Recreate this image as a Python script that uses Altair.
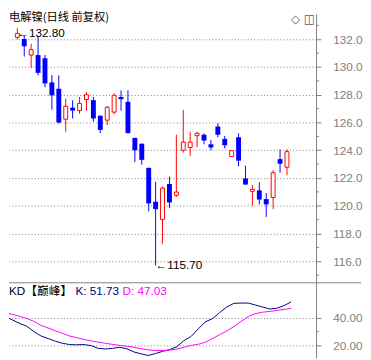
import altair as alt
import pandas as pd

# ---------------- data ----------------
title_text = "电解镍(日线 前复权)"
kd_title = "KD【巅峰】"
icons = ["◇", "◫"]

opens = [132.14, 132.02, 130.86, 130.86, 130.63, 128.89, 128.43, 126.24, 127.07, 126.86,
         127.66, 127.61, 126.49, 126.17, 126.75, 127.84, 127.49, 124.89, 124.47, 122.73,
         120.29, 119.02, 121.57, 120.76, 124.00, 124.20, 125.05, 125.12, 124.43, 125.71,
         124.82, 123.55, 124.94, 121.97, 121.04, 121.11, 120.48, 120.59, 123.36, 122.78]
highs = [132.80, 132.26, 131.67, 132.19, 130.86, 129.42, 129.40, 127.73, 127.60, 127.84,
         128.20, 127.84, 126.50, 127.19, 128.10, 128.31, 128.31, 124.90, 124.50, 122.75,
         121.74, 121.40, 122.10, 125.12, 126.91, 125.33, 125.33, 125.22, 124.75, 125.94,
         125.03, 123.97, 125.22, 122.89, 121.50, 121.69, 120.92, 122.57, 124.06, 124.06]
lows = [131.98, 130.75, 129.93, 129.40, 128.54, 126.93, 125.93, 125.33, 126.29, 126.63,
        126.86, 126.06, 125.24, 125.82, 126.60, 126.86, 125.20, 123.15, 122.96, 119.60,
        115.70, 117.27, 119.83, 120.64, 123.83, 123.59, 124.24, 124.43, 124.00, 124.94,
        124.13, 123.55, 122.85, 121.53, 120.01, 120.10, 119.20, 119.76, 122.38, 122.20]
closes = [132.42, 131.50, 131.25, 129.58, 128.82, 127.96, 126.00, 127.17, 126.86, 127.38,
          128.00, 126.29, 125.47, 127.10, 127.96, 127.68, 125.24, 124.00, 123.31, 120.17,
          119.76, 121.27, 120.24, 120.99, 124.59, 124.59, 125.22, 124.70, 124.20, 125.12,
          124.36, 123.97, 123.25, 121.53, 121.18, 120.45, 120.10, 122.38, 123.03, 123.90]

# KD values (first entry = previous session, drawn at the clipped left edge)
k_vals = [41, 38.5, 36, 34, 30, 26.8, 25, 23, 21.5, 20.6, 20.4, 20.6, 19.8, 17.8, 17.4, 17.8,
          18.6, 17.5, 15.2, 13.8, 12.6, 14, 15.6, 16.9, 19, 23.5, 26.5, 32, 37.2, 39.5, 44,
          48, 50.7, 50.9, 50.9, 49.5, 48, 46.6, 47.1, 49, 51.73]
d_vals = [44, 42.6, 41.2, 39.7, 37.5, 34.6, 32.7, 30.6, 28.8, 26.8, 25.6, 24.3, 23.3, 22.4,
          21.5, 20.7, 20, 19.4, 18.6, 17.6, 16.7, 16.2, 16.2, 16.5, 17.3, 18.6, 20, 20.8,
          22.3, 25, 27.8, 30.5, 33.7, 37.5, 41, 43.2, 44.2, 44.8, 45.5, 46.2, 47.03]

price_ticks = [116, 118, 120, 122, 124, 126, 128, 130, 132]
price_minor = [115, 117, 119, 121, 123, 125, 127, 129, 131, 133]
kd_ticks = [20, 40]
kd_minor = [30]

# ---------------- layout ----------------
W = 314
H1 = 275
H2 = 77
N_SLOTS = 43
GRAY = "#808080"
RED = "#FF0000"
BLUE = "#0000FF"
NAVY = "#000080"
MAGENTA = "#FF00FF"

n = len(opens)
candles = pd.DataFrame({
    "x": [i + 0.5 for i in range(n)],
    "open": opens, "high": highs, "low": lows, "close": closes,
    "dir": ["up" if c >= o else "down" for o, c in zip(opens, closes)],
})

xscale = alt.Scale(domain=[0, N_SLOTS], nice=False, zero=False)
yscale = alt.Scale(domain=[114.45, 133.83], nice=False, zero=False)

price_axis = alt.Axis(orient="right", values=price_ticks, format=".1f", title=None,
                      grid=True, gridDash=[1, 2.3], gridColor=GRAY, gridWidth=1,
                      tickSize=5, tickColor=GRAY, domainColor=GRAY,
                      labelColor=GRAY, labelFont="Liberation Sans", labelFontSize=12,
                      labelPadding=12, labelOverlap=False, labelFlush=False)

base = alt.Chart(candles).encode(x=alt.X("x:Q", scale=xscale, axis=None))

wick = base.mark_rule(strokeWidth=1).encode(
    y=alt.Y("low:Q", scale=yscale, axis=price_axis),
    y2="high:Q",
    color=alt.Color("dir:N", scale=alt.Scale(domain=["up", "down"], range=[RED, BLUE]), legend=None),
)
body_down = base.transform_filter(alt.datum.dir == "down").mark_bar(size=5, color=BLUE).encode(
    y=alt.Y("open:Q", scale=yscale, axis=price_axis), y2="close:Q")
body_up = base.transform_filter(alt.datum.dir == "up").mark_bar(
    size=4, fill="white", stroke=RED, strokeWidth=1).encode(
    y=alt.Y("open:Q", scale=yscale, axis=price_axis), y2="close:Q")

minor_top = alt.Chart(pd.DataFrame({"v": price_minor})).mark_rule(color=GRAY).encode(
    y=alt.Y("v:Q", scale=yscale, axis=price_axis), x=alt.value(W), x2=alt.value(W + 3))

hi_i = highs.index(max(highs))
lo_i = lows.index(min(lows))
hi_df = pd.DataFrame({"x": [hi_i + 0.5], "y": [highs[hi_i]], "t": ["←" + f"{highs[hi_i]:.2f}"]})
lo_df = pd.DataFrame({"x": [lo_i + 0.5], "y": [lows[lo_i]], "t": ["←" + f"{lows[lo_i]:.2f}"]})

hi_text = alt.Chart(hi_df).mark_text(align="left", baseline="middle", dy=5, fontSize=12,
                                     font="Liberation Sans, DejaVu Sans", color="black").encode(
    x=alt.X("x:Q", scale=xscale, axis=None), y=alt.Y("y:Q", scale=yscale, axis=price_axis), text="t:N")
lo_text = alt.Chart(lo_df).mark_text(align="left", baseline="middle", dy=0, fontSize=12,
                                     font="Liberation Sans, DejaVu Sans", color="black").encode(
    x=alt.X("x:Q", scale=xscale, axis=None), y=alt.Y("y:Q", scale=yscale, axis=price_axis), text="t:N")

title_mark = alt.Chart(pd.DataFrame({"t": [title_text]})).mark_text(
    align="left", baseline="middle", fontSize=11.5, font="Noto Sans CJK SC", color="black").encode(
    text="t:N", x=alt.value(0), y=alt.value(4))
icon_mark = alt.Chart(pd.DataFrame({"t": icons, "px": [293, 307]})).mark_text(
    align="center", baseline="middle", fontSize=12, font="DejaVu Sans", color="#555555").encode(
    text="t:N", x=alt.X("px:Q", scale=None), y=alt.value(5))

top = alt.layer(wick, body_down, body_up, minor_top, hi_text, lo_text, title_mark, icon_mark).properties(
    width=W, height=H1)

# ---------------- KD panel ----------------
kd_x = [i - 0.5 for i in range(len(k_vals))]
kd = pd.DataFrame({
    "x": kd_x + kd_x,
    "v": k_vals + d_vals,
    "s": ["K"] * len(k_vals) + ["D"] * len(d_vals),
})
kd_scale = alt.Scale(domain=[10.7, 65.7], nice=False, zero=False)
kd_axis = alt.Axis(orient="right", values=kd_ticks, format=".2f", title=None,
                   grid=True, gridDash=[1, 2.3], gridColor=GRAY, gridWidth=1,
                   tickSize=5, tickColor=GRAY, domainColor=GRAY,
                   labelColor=GRAY, labelFont="Liberation Sans", labelFontSize=12,
                   labelPadding=12, labelOverlap=False, labelFlush=False)

kd_lines = alt.Chart(kd).mark_line(strokeWidth=1, clip=True).encode(
    x=alt.X("x:Q", scale=xscale, axis=None),
    y=alt.Y("v:Q", scale=kd_scale, axis=kd_axis),
    color=alt.Color("s:N", scale=alt.Scale(domain=["K", "D"], range=[NAVY, MAGENTA]), legend=None),
)
minor_kd = alt.Chart(pd.DataFrame({"v": kd_minor})).mark_rule(color=GRAY).encode(
    y=alt.Y("v:Q", scale=kd_scale, axis=kd_axis), x=alt.value(W), x2=alt.value(W + 3))
sep = alt.Chart(pd.DataFrame({"a": [0]})).mark_rule(color=GRAY, strokeWidth=1).encode(
    y=alt.value(0), x=alt.value(0), x2=alt.value(W + 46))

kd_labels = pd.DataFrame({
    "t": [kd_title, f"K: {k_vals[-1]:.2f}", f"D: {d_vals[-1]:.2f}"],
    "px": [0, 68, 116],
    "c": ["black", NAVY, MAGENTA],
})
kd_text = alt.Chart(kd_labels).mark_text(align="left", baseline="middle", fontSize=12,
                                         font="Liberation Sans, Noto Sans CJK SC").encode(
    text="t:N", x=alt.X("px:Q", scale=None), y=alt.value(8), color=alt.Color("c:N", scale=None))

bottom = alt.layer(sep, kd_lines, minor_kd, kd_text).properties(width=W, height=H2)

chart = alt.vconcat(top, bottom, spacing=0, bounds="flush").resolve_scale(
    x="independent", y="independent", color="independent").properties(padding=0).configure_view(stroke=None)

chart.save("out.html", embed_options={"renderer": "svg", "actions": False})
